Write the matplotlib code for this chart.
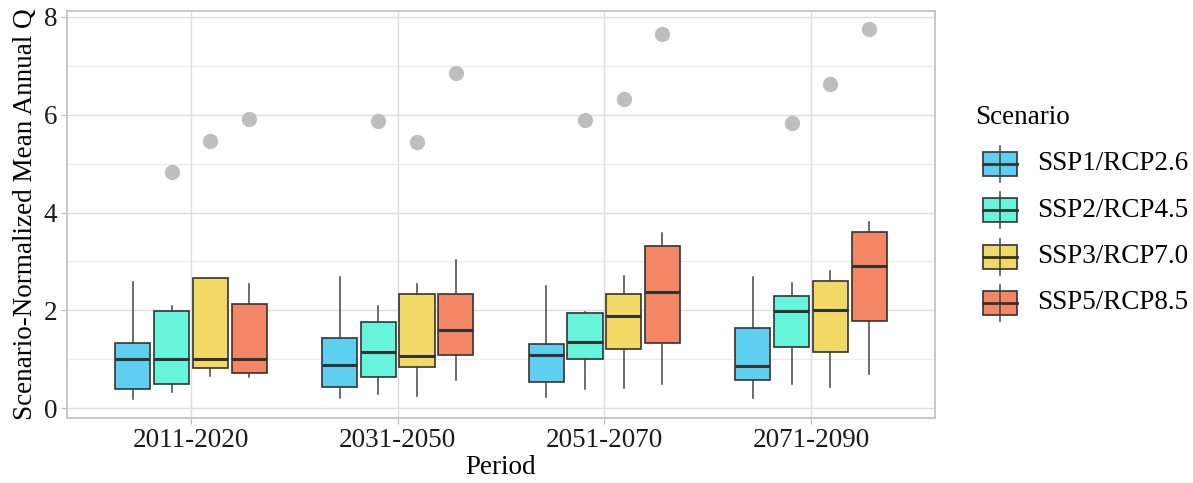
import matplotlib.pyplot as plt
from matplotlib.patches import Rectangle
from matplotlib.lines import Line2D
import numpy as np

plt.rcParams['font.family'] = ['Liberation Serif', 'DejaVu Serif']

periods = ['2011-2020', '2031-2050', '2051-2070', '2071-2090']
scenarios = ['SSP1/RCP2.6', 'SSP2/RCP4.5', 'SSP3/RCP7.0', 'SSP5/RCP8.5']
colors = ['#5ECFF0', '#66F5DA', '#F2D865', '#F28665']

# per scenario, per period: whislo, q1, med, q3, whishi
ssp1 = [[0.18, 0.40, 1.00, 1.34, 2.57],
        [0.20, 0.44, 0.89, 1.44, 2.69],
        [0.22, 0.53, 1.09, 1.32, 2.50],
        [0.20, 0.58, 0.87, 1.63, 2.68]]
ssp2 = [[0.33, 0.50, 1.00, 1.98, 2.09],
        [0.29, 0.64, 1.15, 1.77, 2.08],
        [0.39, 1.00, 1.36, 1.95, 1.96],
        [0.49, 1.25, 1.99, 2.30, 2.56]]
ssp3 = [[0.66, 0.82, 1.01, 2.66, 2.66],
        [0.24, 0.85, 1.06, 2.34, 2.53],
        [0.42, 1.21, 1.88, 2.33, 2.70],
        [0.43, 1.15, 2.01, 2.60, 2.80]]
ssp5 = [[0.64, 0.73, 1.00, 2.14, 2.53],
        [0.58, 1.08, 1.60, 2.34, 3.02],
        [0.50, 1.34, 2.37, 3.31, 3.58],
        [0.70, 1.78, 2.90, 3.61, 3.80]]
# outliers (one per box, None if none)
out1 = [None, None, None, None]
out2 = [4.83, 5.87, 5.90, 5.83]
out3 = [5.47, 5.45, 6.32, 6.62]
out5 = [5.91, 6.85, 7.65, 7.75]

all_stats = [ssp1, ssp2, ssp3, ssp5]
all_out = [out1, out2, out3, out5]

fig = plt.figure(figsize=(11.93, 4.83), dpi=100)
ax = fig.add_axes([67/1193, 65/483, 868/1193, 407/483])

grid_major = '#DEDEDE'
grid_minor = '#EBEBEB'
for v in [1, 3, 5, 7]:
    ax.axhline(v, color=grid_minor, lw=0.9, zorder=0)
for v in [0, 2, 4, 6, 8]:
    ax.axhline(v, color=grid_major, lw=1.0, zorder=0)
for i in range(len(periods)):
    ax.axvline(i + 1, color=grid_major, lw=1.0, zorder=0)

dodge = 0.1875
bw = 0.17
fs = 19.5
for s, (st, outs) in enumerate(zip(all_stats, all_out)):
    stats = []
    pos = []
    for p in range(len(periods)):
        lo, q1, med, q3, hi = st[p]
        fl = [outs[p]] if outs[p] is not None else []
        stats.append(dict(med=med, q1=q1, q3=q3, whislo=lo, whishi=hi, fliers=fl))
        pos.append(p + 1 + (s - 1.5) * dodge)
    ax.bxp(stats, positions=pos, widths=bw, patch_artist=True, showcaps=False,
           boxprops=dict(facecolor=colors[s], edgecolor='#333333', linewidth=1.2),
           medianprops=dict(color='#333333', linewidth=2.2),
           whiskerprops=dict(color='#444444', linewidth=1.1),
           flierprops=dict(marker='o', markerfacecolor='#BEBEBE', markeredgecolor='#BEBEBE',
                           markersize=10),
           manage_ticks=False, zorder=3)

ax.set_xlim(0.4, 4.6)
ax.set_ylim(-0.2, 8.12)
ax.set_xticks(range(1, len(periods) + 1))
ax.set_xticklabels(periods)
ax.set_yticks([0, 2, 4, 6, 8])
ax.tick_params(axis='both', labelsize=fs, colors='#1a1a1a', length=4, width=0.8, pad=3)
ax.tick_params(axis='both', color='#BBBBBB')
for sp in ax.spines.values():
    sp.set_color('#BFBFBF')
    sp.set_linewidth(1.2)
ax.set_xlabel('Period', fontsize=fs, labelpad=2)
ax.set_ylabel('Scenario-Normalized Mean Annual Q', fontsize=fs, labelpad=4)

# legend drawn in its own axes (pixel coordinates)
lax = fig.add_axes([0, 0, 1, 1], facecolor='none')
lax.set_xlim(0, 1193)
lax.set_ylim(483, 0)
lax.axis('off')
lax.text(975, 117, 'Scenario', fontsize=fs, va='center', ha='left')
for i, (name, c) in enumerate(zip(scenarios, colors)):
    yc = 164 + i * 46.3
    lax.add_line(Line2D([1000, 1000], [yc - 18, yc + 18], color='#444444', lw=1.1))
    lax.add_patch(Rectangle((983, yc - 12), 34, 24, facecolor=c, edgecolor='#333333', lw=1.2))
    lax.add_line(Line2D([983, 1017], [yc, yc], color='#333333', lw=2.0))
    lax.text(1037, yc, name, fontsize=fs, va='center', ha='left')

fig.savefig('out.png', dpi=100)
